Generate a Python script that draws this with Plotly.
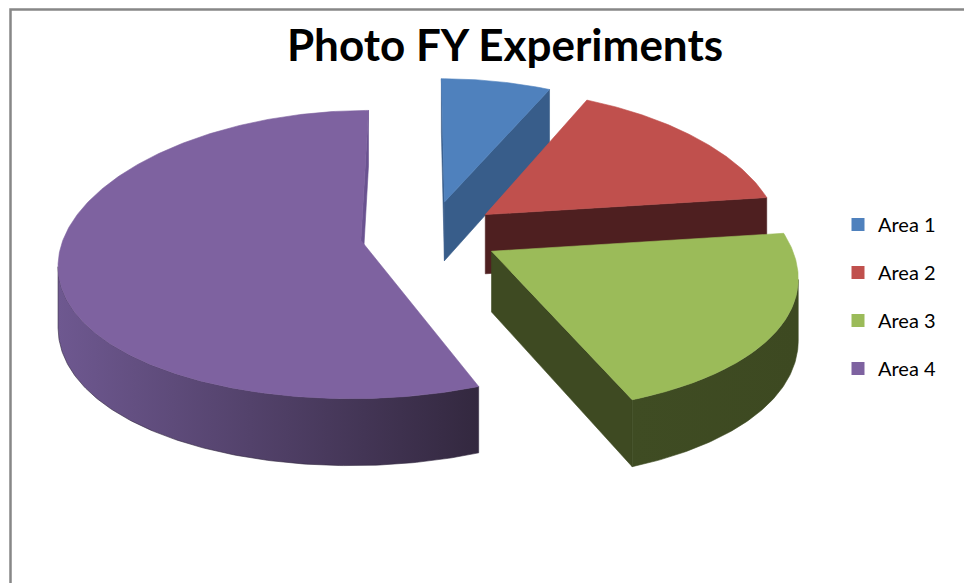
import numpy as np
import plotly.graph_objects as go

# ---- chart data -------------------------------------------------------------
categories = ["Area 1", "Area 2", "Area 3", "Area 4"]
values = [7, 16, 21, 56]
top_colors = ["#4f81bd", "#c0504d", "#9bbb59", "#7e62a0"]
side_colors = ["#385d8a", "#4e1f20", "#3e4a22", "#6a5290"]
wall_light = ["#3d6596", "#4e1f20", "#3f4c23", "#6e5890"]
wall_dark = ["#385d8a", "#4e1f20", "#3d4921", "#33283f"]
title_text = "Photo FY Experiments"

# ---- drawing geometry (axes use the page's pixel grid) ---------------------
W, H = 964, 583
CX, CY = 430.0, 234.0      # screen position of the pie centre
R = 296.0                  # pie radius
EXPLODE = 70.0             # distance each slice is pulled out
THICK = 60.0               # pie thickness
TILT = 0.478               # vertical squash of the tilted disc
DX, DY = 2000.0, 3000.0    # perspective depth (horizontal / vertical)
X0 = -10.0                 # horizontal position of the eye


def project(X, Y, Z=0.0):
    """Map a point on the tilted pie (X right, Y away, Z down) to the screen."""
    X = np.asarray(X, float)
    Y = np.asarray(Y, float)
    sx = CX + X0 + (X - X0) * DX / (DX + Y)
    sy = CY - TILT * Y * DY / (DY + Y) + Z * DY / (DY + Y)
    return sx, sy


def signed_area(xs, ys):
    xs = np.asarray(xs)
    ys = np.asarray(ys)
    return 0.5 * np.sum(xs * np.roll(ys, -1) - np.roll(xs, -1) * ys)


def quad(p1, p2):
    """Vertical wall hanging below the top edge p1 -> p2 (world X, Y)."""
    tx, ty = project([p1[0], p2[0]], [p1[1], p2[1]])
    bx, by = project([p2[0], p1[0]], [p2[1], p1[1]], THICK)
    return np.concatenate([tx, bx]), np.concatenate([ty, by])


fracs = np.array(values, float) / np.sum(values)
starts = 90.0 - 360.0 * np.concatenate([[0.0], np.cumsum(fracs)[:-1]])
ends = starts - 360.0 * fracs

slices = []
for i in range(len(values)):
    ts, te = starts[i], ends[i]
    mid = np.radians((ts + te) / 2.0)
    ox, oy = EXPLODE * np.cos(mid), EXPLODE * np.sin(mid)
    n = max(12, int(abs(ts - te) * 1.5))
    th = np.radians(np.linspace(ts, te, n))
    ax_ = ox + R * np.cos(th)
    ay_ = oy + R * np.sin(th)
    depth = oy + 0.5 * R * np.sin(mid)
    slices.append(dict(i=i, ox=ox, oy=oy, ax=ax_, ay=ay_, depth=depth))

fig = go.Figure()


def add_poly(xs, ys, color, gradient=None):
    kw = dict(
        x=list(np.append(xs, xs[0])),
        y=list(np.append(ys, ys[0])),
        mode="lines",
        fill="toself",
        line=dict(width=0.6, color=color),
        hoverinfo="skip",
        showlegend=False,
    )
    if gradient is not None:
        kw["fillgradient"] = dict(type="horizontal", colorscale=gradient)
    else:
        kw["fillcolor"] = color
    fig.add_trace(go.Scatter(**kw))


# back-to-front so nearer slices cover farther ones
for s in sorted(slices, key=lambda d: -d["depth"]):
    i = s["i"]
    apex = (s["ox"], s["oy"])
    p_start = (s["ax"][0], s["ay"][0])
    p_end = (s["ax"][-1], s["ay"][-1])

    # radial cut faces
    for a, b in ((apex, p_start), (p_end, apex)):
        qx, qy = quad(a, b)
        if signed_area(qx, qy) < -0.5:
            add_poly(qx, qy, side_colors[i])

    # curved outer wall: keep runs of segments that face the viewer
    n = len(s["ax"])
    vis = []
    for k in range(n - 1):
        qx, qy = quad((s["ax"][k], s["ay"][k]), (s["ax"][k + 1], s["ay"][k + 1]))
        vis.append(signed_area(qx, qy) < 0)
    k = 0
    while k < n - 1:
        if vis[k]:
            j = k
            while j < n - 1 and vis[j]:
                j += 1
            tx, ty = project(s["ax"][k:j + 1], s["ay"][k:j + 1])
            bx, by = project(s["ax"][k:j + 1][::-1], s["ay"][k:j + 1][::-1], THICK)
            add_poly(np.concatenate([tx, bx]), np.concatenate([ty, by]),
                     wall_dark[i],
                     gradient=[[0, wall_light[i]], [1, wall_dark[i]]])
            k = j
        else:
            k += 1

    # top face
    tx, ty = project(np.concatenate([[apex[0]], s["ax"]]),
                     np.concatenate([[apex[1]], s["ay"]]))
    add_poly(tx, ty, top_colors[i])

# legend entries
for i, name in enumerate(categories):
    fig.add_trace(go.Scatter(
        x=[None], y=[None], mode="markers", name=name,
        legendgroup=name,
        marker=dict(symbol="square", size=13, color=top_colors[i]),
        showlegend=True, hoverinfo="skip",
    ))

fig.update_layout(
    width=W, height=H,
    margin=dict(l=0, r=0, t=0, b=0, pad=0),
    autosize=False,
    paper_bgcolor="white",
    plot_bgcolor="white",
    xaxis=dict(range=[0, W], visible=False, fixedrange=True),
    yaxis=dict(range=[H, 0], visible=False, fixedrange=True),
    title=dict(
        text="<b>" + title_text + "</b>",
        font=dict(family="Lato", size=44, color="black"),
        x=505 / W, xanchor="center",
        y=1 - 46 / H, yanchor="middle",
    ),
    legend=dict(
        x=838 / W, xanchor="left",
        y=1 - 205 / H, yanchor="top",
        font=dict(family="Lato", size=20, color="black"),
        tracegroupgap=19,
        bgcolor="rgba(0,0,0,0)",
    ),
    shapes=[dict(
        type="rect", xref="paper", yref="paper",
        x0=10.5 / W, x1=1.05, y0=-0.05, y1=1 - 9.5 / H,
        line=dict(color="#878787", width=2.5),
    )],
    showlegend=True,
)

fig.write_html("out.html")
